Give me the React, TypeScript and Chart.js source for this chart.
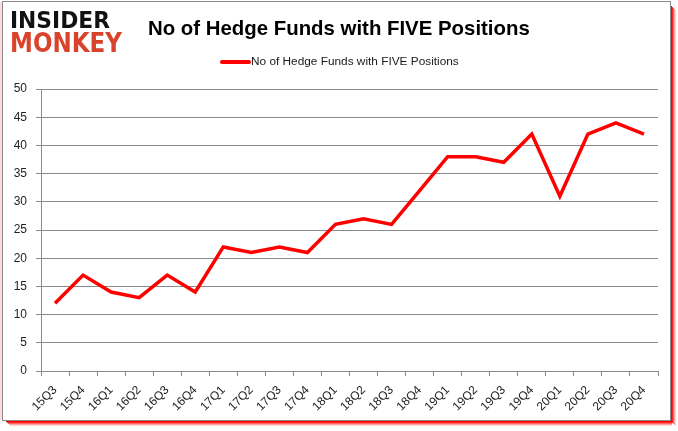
import React, { useEffect, useRef } from "react";
import { Chart, registerables } from "chart.js";

Chart.register(...registerables);

const quarters = [
  "15Q3", "15Q4", "16Q1", "16Q2", "16Q3", "16Q4", "17Q1", "17Q2", "17Q3", "17Q4",
  "18Q1", "18Q2", "18Q3", "18Q4", "19Q1", "19Q2", "19Q3", "19Q4", "20Q1", "20Q2",
  "20Q3", "20Q4",
];
const hedgeFunds = [12, 17, 14, 13, 17, 14, 22, 21, 22, 21, 26, 27, 26, 32, 38, 38, 37, 42, 31, 42, 44, 42];
const seriesLabel = "No of Hedge Funds with FIVE Positions";
const chartTitle = "No of Hedge Funds with FIVE Positions";
const logoTop = "INSIDER";
const logoBottom = "MONKEY";

const W = 678;
const H = 431;

function fitFont(ctx: CanvasRenderingContext2D, text: string, weight: string, family: string, width: number) {
  ctx.font = `${weight} 100px ${family}`;
  const w = ctx.measureText(text).width;
  return (100 * width) / w;
}

const decorPlugin = {
  id: "decor",
  beforeDraw(chart: any) {
    const ctx: CanvasRenderingContext2D = chart.ctx;
    ctx.save();
    // soft red shadow (bottom and right)
    const alphas = [1, 0.85, 0.6, 0.35, 0.15];
    alphas.forEach((a, i) => {
      ctx.fillStyle = `rgba(255,0,0,${a})`;
      ctx.fillRect(6 + i, 421 + i, 666 - i, 1);
      ctx.fillRect(671 + i, 6 + i, 1, 416);
    });
    ctx.fillStyle = "rgba(255,150,150,0.35)";
    ctx.fillRect(0, 2, 2, 418);
    // background + border
    ctx.fillStyle = "#ffffff";
    ctx.fillRect(2, 1, 669, 420);
    ctx.strokeStyle = "#8a8a8a";
    ctx.lineWidth = 1;
    ctx.strokeRect(2.5, 1.5, 668, 419);
    ctx.restore();
  },
  afterDraw(chart: any) {
    const ctx: CanvasRenderingContext2D = chart.ctx;
    ctx.save();
    // logo
    ctx.textBaseline = "alphabetic";
    ctx.textAlign = "left";
    let fs = fitFont(ctx, logoTop, "900", "'DejaVu Sans'", 100);
    ctx.font = `900 ${fs}px 'DejaVu Sans'`;
    ctx.save();
    ctx.translate(10, 28);
    ctx.scale(1, 17 / (fs * 0.73));
    ctx.fillStyle = "#111111";
    ctx.fillText(logoTop, 0, 0);
    ctx.restore();
    fs = fitFont(ctx, logoBottom, "900", "'DejaVu Sans'", 112);
    ctx.font = `900 ${fs}px 'DejaVu Sans'`;
    ctx.save();
    ctx.translate(10, 52);
    ctx.scale(1, 19 / (fs * 0.73));
    ctx.fillStyle = "#d8432b";
    ctx.fillText(logoBottom, 0, 0);
    ctx.restore();

    // title
    fs = fitFont(ctx, chartTitle, "bold", "'Liberation Sans'", 382);
    ctx.font = `bold ${fs}px 'Liberation Sans'`;
    ctx.fillStyle = "#000000";
    ctx.fillText(chartTitle, 148, 35);

    // legend
    const ds = chart.data.datasets[0];
    ctx.strokeStyle = ds.borderColor;
    ctx.lineWidth = 4;
    ctx.lineCap = "round";
    ctx.beginPath();
    ctx.moveTo(222, 62);
    ctx.lineTo(249, 62);
    ctx.stroke();
    fs = fitFont(ctx, ds.label, "normal", "'Liberation Sans'", 208);
    ctx.font = `${fs}px 'Liberation Sans'`;
    ctx.fillStyle = "#1a1a1a";
    ctx.textBaseline = "middle";
    ctx.fillText(ds.label, 251, 62);
    ctx.restore();
  },
};

export default function App() {
  const ref = useRef<HTMLCanvasElement | null>(null);
  useEffect(() => {
    if (!ref.current) return;
    const chart = new Chart(ref.current, {
      type: "line",
      data: {
        labels: quarters,
        datasets: [
          {
            label: seriesLabel,
            data: hedgeFunds,
            borderColor: "#ff0000",
            backgroundColor: "#ff0000",
            borderWidth: 3.5,
            pointRadius: 0,
            tension: 0,
            fill: false,
          },
        ],
      },
      options: {
        responsive: false,
        animation: false,
        devicePixelRatio: 1,
        layout: { padding: { top: 89, left: 0, right: 20, bottom: 0 } },
        plugins: {
          legend: { display: false },
          title: { display: false },
          tooltip: { enabled: false },
        },
        scales: {
          x: {
            offset: true,
            afterFit(scale: any) {
              scale.height = 60;
            },
            grid: {
              offset: true,
              drawOnChartArea: false,
              drawTicks: true,
              tickLength: 5,
              color: "#8a8a8a",
            },
            border: { color: "#8a8a8a" },
            ticks: {
              minRotation: 45,
              maxRotation: 45,
              autoSkip: false,
              padding: 7,
              color: "#1f1f1f",
              font: { family: "'Liberation Sans'", size: 12 },
            },
          },
          y: {
            min: 0,
            max: 50,
            afterFit(scale: any) {
              scale.width = 41;
            },
            grid: {
              color: "#8a8a8a",
              tickLength: 5,
            },
            border: { color: "#8a8a8a" },
            ticks: {
              stepSize: 5,
              padding: 9,
              color: "#1f1f1f",
              font: { family: "'Liberation Sans'", size: 12 },
            },
          },
        },
      },
      plugins: [decorPlugin],
    });
    return () => chart.destroy();
  }, []);
  return (
    <div style={{ position: "fixed", left: 0, top: 0, width: W, height: H }}>
      <canvas ref={ref} width={W} height={H} style={{ width: W, height: H, display: "block" }} />
    </div>
  );
}
